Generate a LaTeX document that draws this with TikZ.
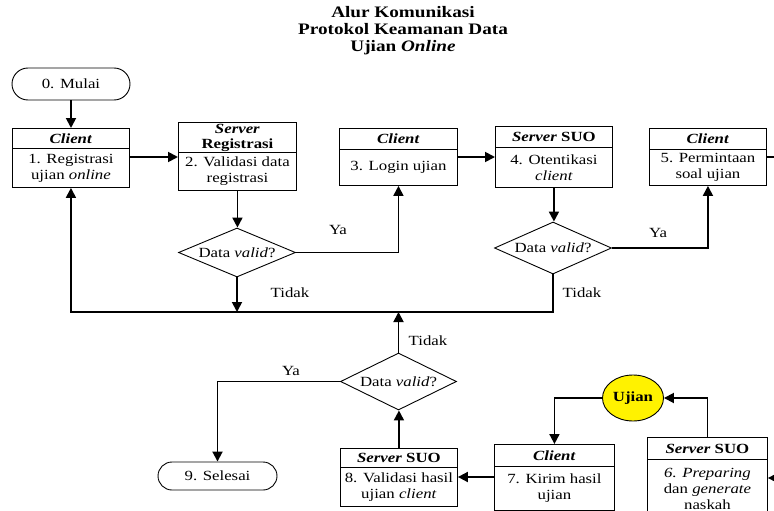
\documentclass[tikz,border=0pt]{standalone}
\usepackage{fontspec}
\setmainfont{Liberation Serif}[FakeStretch=1.2]
\usetikzlibrary{arrows.meta,shapes.geometric}
\tikzset{
  basefont/.style={font=\fontsize{14}{16}\selectfont},
  hdr/.style={draw, line width=0.9pt, inner sep=0pt, anchor=north west, align=center,
    font=\fontsize{14}{15}\selectfont\bfseries},
  bdy/.style={draw, line width=0.9pt, inner sep=0pt, anchor=north west, align=center, basefont},
  term/.style={draw, line width=0.9pt, inner sep=0pt, align=center, basefont},
  decis/.style={diamond, draw, line width=0.9pt, inner sep=0pt, aspect=2.3, basefont},
  lbl/.style={inner sep=0pt, basefont},
  wire/.style={line width=1.8pt},
  conn/.style={line width=1.8pt, -{Triangle[length=10pt,width=10pt]}}
}
\begin{document}
\begin{tikzpicture}[x=1pt,y=-1pt]
\useasboundingbox (0,0) rectangle (774,511);
\clip (0,0) rectangle (774,511);
\fill[white] (0,0) rectangle (774,511);

% title
\node[align=center, inner sep=0pt, font=\fontsize{16}{17}\selectfont\bfseries] (title) at (403,31)
  {Alur Komunikasi\\Protokol Keamanan Data\\Ujian \textit{Online}};

% terminals
\node[term, rounded corners=16pt, minimum width=118pt, minimum height=32pt] (m0) at (71,84) {0. Mulai};
\node[term, rounded corners=14pt, minimum width=119pt, minimum height=28pt] (s9) at (217.5,476) {9. Selesai};

% box 1
\node[hdr, minimum width=117pt, minimum height=20pt] (h1) at (12,128) {\textit{Client}};
\node[bdy, minimum width=117pt, minimum height=39pt] (b1) at (12,148) {1. Registrasi\\ujian \textit{online}};
% box 2
\node[hdr, minimum width=118pt, minimum height=30pt] (h2) at (178,122) {\textit{Server}\\Registrasi};
\node[bdy, minimum width=118pt, minimum height=38pt] (b2) at (178,152) {2. Validasi data\\registrasi};
% box 3
\node[hdr, minimum width=118pt, minimum height=21pt] (h3) at (339,128) {\textit{Client}};
\node[bdy, minimum width=118pt, minimum height=36pt] (b3) at (339,149) {3. Login ujian};
% box 4
\node[hdr, minimum width=117pt, minimum height=21pt] (h4) at (495,126) {\textit{Server} SUO};
\node[bdy, minimum width=117pt, minimum height=40pt] (b4) at (495,147) {4. Otentikasi\\\textit{client}};
% box 5
\node[hdr, minimum width=117pt, minimum height=21pt] (h5) at (649,128) {\textit{Client}};
\node[bdy, minimum width=117pt, minimum height=36pt] (b5) at (649,149) {5. Permintaan\\soal ujian};
% box 6
\node[hdr, minimum width=120pt, minimum height=22pt] (h6) at (647,437) {\textit{Server} SUO};
\node[bdy, minimum width=120pt, minimum height=59pt] (b6) at (647,459) {\textit{6. Preparing}\\dan \textit{generate}\\naskah};
% box 7
\node[hdr, minimum width=120pt, minimum height=22pt] (h7) at (494,444) {\textit{Client}};
\node[bdy, minimum width=120pt, minimum height=44pt] (b7) at (494,466) {7. Kirim hasil\\ujian};
% box 8
\node[hdr, minimum width=117pt, minimum height=19pt] (h8) at (340,448) {\textit{Server} SUO};
\node[bdy, minimum width=117pt, minimum height=39pt] (b8) at (340,467) {8. Validasi hasil\\ujian \textit{client}};

% decisions
\node[decis, minimum width=117pt, minimum height=49pt] (d1) at (237,252.5) {Data \textit{valid}?};
\node[decis, minimum width=117pt, minimum height=52pt] (d2) at (553,248) {Data \textit{valid}?};
\node[decis, minimum width=116pt, minimum height=57pt] (d3) at (398.5,381.5) {Data \textit{valid}?};

% ujian
\node[ellipse, draw, line width=0.9pt, fill=yellow, minimum width=61pt, minimum height=46pt,
  inner sep=0pt, font=\fontsize{14}{15}\selectfont\bfseries] (uj) at (633,398) {Ujian};

% helper coordinates
\coordinate (bus) at (0,312);
\coordinate (offR) at (790,0);

% connectors
\draw[conn] (m0.south) -- (m0.south |- h1.north);
\draw[conn] (b1.east |- 0,157) -- (b2.west |- 0,157);
\draw[conn] (b2.south) -- (b2.south |- d1.north);
\draw[conn] (d1.east) -| (b3.south);
\draw[conn] (b3.east |- 0,157) -- (b4.west |- 0,157);
\draw[conn] (b4.south) -- (b4.south |- d2.north);
\draw[conn] (d2.east) -| (b5.south);
\draw[conn] (b5.east |- 0,157) -- (offR |- 0,157) -- (offR |- 0,478) -- (b6.east |- 0,478);
\draw[conn] (h6.north) |- (uj.east);
\draw[conn] (uj.west) -| (h7.north);
\draw[conn] (b7.west |- 0,477) -- (b8.east |- 0,477);
\draw[conn] (h8.north) -- (h8.north |- d3.south);
\draw[conn] (d3.west) -| (s9.north);
\draw[conn] (d3.north) -- (d3.north |- bus);
\draw[conn] (d1.south) -- (d1.south |- bus);
\draw[conn] (d2.south) -- (d2.south |- bus) -| (b1.south);

% labels
\node[lbl] (ya1) at (338,230) {Ya};
\node[lbl] (td1) at (290,293) {Tidak};
\node[lbl] (ya2) at (658,233) {Ya};
\node[lbl] (td2) at (582,293) {Tidak};
\node[lbl] (td3) at (428,341) {Tidak};
\node[lbl] (ya3) at (291,371) {Ya};
\end{tikzpicture}
\end{document}
